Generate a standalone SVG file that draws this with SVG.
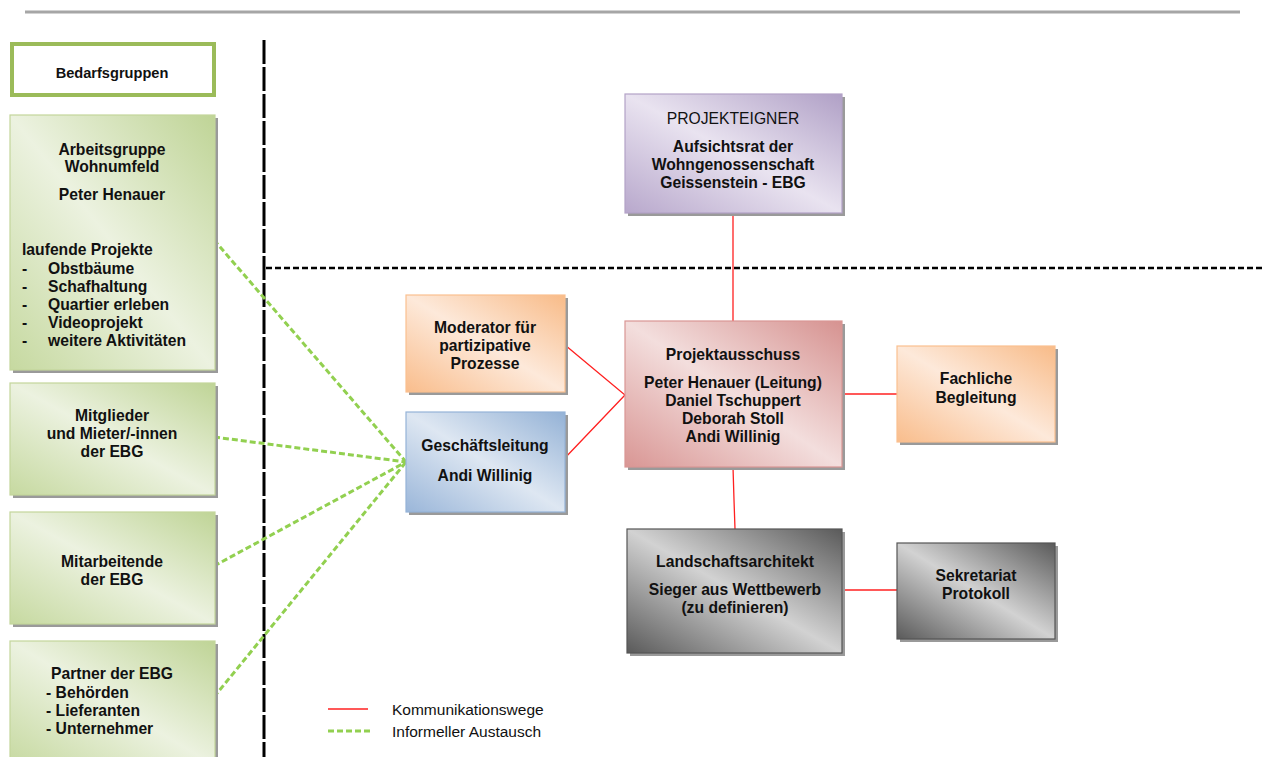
<svg xmlns="http://www.w3.org/2000/svg" width="1268" height="757" viewBox="0 0 1268 757">
<style>
text{font-family:"Liberation Sans",Arial,sans-serif;font-size:15.7px;font-weight:bold;fill:#111;}
.c{text-anchor:middle;}
.n{font-weight:normal;}
.lg{font-size:15.5px;font-weight:normal;}
.bd{font-size:14.6px;}
.box{stroke-width:1.2;}
.sh{fill:#9a9a9a;}
.red{stroke:#ff2020;stroke-width:1.3;fill:none;}
.grn{stroke:#92d050;stroke-width:3;stroke-dasharray:6 3;fill:none;}
</style>
<defs>
<linearGradient id="gG" x1="0" y1="1" x2="1" y2="0"><stop offset="0" stop-color="#c6d9a0"/><stop offset="0.5" stop-color="#ecf2e0"/><stop offset="1" stop-color="#bfd496"/></linearGradient>
<linearGradient id="gP" x1="0" y1="1" x2="1" y2="0"><stop offset="0" stop-color="#b8a8cc"/><stop offset="0.5" stop-color="#e9e3f0"/><stop offset="1" stop-color="#b0a0c6"/></linearGradient>
<linearGradient id="gO" x1="0" y1="1" x2="1" y2="0"><stop offset="0" stop-color="#f9bd8c"/><stop offset="0.5" stop-color="#fde9da"/><stop offset="1" stop-color="#f8bb88"/></linearGradient>
<linearGradient id="gB" x1="0" y1="1" x2="1" y2="0"><stop offset="0" stop-color="#9ab6d9"/><stop offset="0.5" stop-color="#dee7f2"/><stop offset="1" stop-color="#94b2d6"/></linearGradient>
<linearGradient id="gR" x1="0" y1="1" x2="1" y2="0"><stop offset="0" stop-color="#d99694"/><stop offset="0.5" stop-color="#f3dedd"/><stop offset="1" stop-color="#d69290"/></linearGradient>
<linearGradient id="gK" x1="0" y1="1" x2="1" y2="0"><stop offset="0" stop-color="#5a5a5a"/><stop offset="0.5" stop-color="#d2d2d2"/><stop offset="1" stop-color="#5a5a5a"/></linearGradient>
</defs>

<line x1="25" y1="12" x2="1240" y2="12" stroke="#a6a6a6" stroke-width="3"/>
<line x1="264" y1="40" x2="264" y2="757" stroke="#000" stroke-width="3" stroke-dasharray="24 3"/>
<line x1="266" y1="268" x2="1262" y2="268" stroke="#000" stroke-width="2.5" stroke-dasharray="6 3"/>

<g id="connectors">
<line class="red" x1="733" y1="213" x2="733" y2="321"/>
<polyline class="red" points="565,345 625,395 563,460"/>
<line class="red" x1="842" y1="394" x2="897" y2="394"/>
<polyline class="red" points="733,467 734,500 735,529"/>
<line class="red" x1="842" y1="590" x2="897" y2="590"/>
<line class="grn" x1="214" y1="240" x2="406" y2="462"/>
<line class="grn" x1="214" y1="437" x2="406" y2="462"/>
<line class="grn" x1="214" y1="566" x2="406" y2="462"/>
<line class="grn" x1="214" y1="697" x2="406" y2="462"/>
</g>

<g id="bedarfsgruppen">
<rect x="12" y="44" width="202" height="51" fill="#fff" stroke="#9bbb59" stroke-width="4"/>
<text class="c bd" x="112" y="78">Bedarfsgruppen</text>
</g>

<g id="arbeitsgruppe">
<rect class="sh" x="13" y="118" width="205" height="255"/>
<rect class="box" x="10" y="115" width="205" height="255" fill="url(#gG)" stroke="#c3d69b"/>
<text class="c" x="112" y="155">Arbeitsgruppe</text>
<text class="c" x="112" y="172">Wohnumfeld</text>
<text class="c" x="112" y="200">Peter Henauer</text>
<text x="22" y="255">laufende Projekte</text>
<text x="22" y="274">-</text><text x="48" y="274">Obstbäume</text>
<text x="22" y="292">-</text><text x="48" y="292">Schafhaltung</text>
<text x="22" y="310">-</text><text x="48" y="310">Quartier erleben</text>
<text x="22" y="328">-</text><text x="48" y="328">Videoprojekt</text>
<text x="22" y="346">-</text><text x="48" y="346">weitere Aktivitäten</text>
</g>

<g id="mitglieder">
<rect class="sh" x="13" y="386" width="205" height="112"/>
<rect class="box" x="10" y="383" width="205" height="112" fill="url(#gG)" stroke="#c3d69b"/>
<text class="c" x="112" y="421">Mitglieder</text>
<text class="c" x="112" y="439">und Mieter/-innen</text>
<text class="c" x="112" y="457">der EBG</text>
</g>

<g id="mitarbeitende">
<rect class="sh" x="13" y="515" width="205" height="112"/>
<rect class="box" x="10" y="512" width="205" height="112" fill="url(#gG)" stroke="#c3d69b"/>
<text class="c" x="112" y="567">Mitarbeitende</text>
<text class="c" x="112" y="585">der EBG</text>
</g>

<g id="partner">
<rect class="sh" x="13" y="644" width="205" height="120"/>
<rect class="box" x="10" y="641" width="205" height="125" fill="url(#gG)" stroke="#c3d69b"/>
<text class="c" x="112" y="679">Partner der EBG</text>
<text x="46" y="698">- Behörden</text>
<text x="46" y="716">- Lieferanten</text>
<text x="46" y="734">- Unternehmer</text>
</g>

<g id="projekteigner">
<rect class="sh" x="628" y="97" width="217" height="119"/>
<rect class="box" x="625" y="94" width="217" height="119" fill="url(#gP)" stroke="#b3a2c7"/>
<text class="c n" x="733" y="124">PROJEKTEIGNER</text>
<text class="c" x="733" y="152">Aufsichtsrat der</text>
<text class="c" x="733" y="170">Wohngenossenschaft</text>
<text class="c" x="733" y="188">Geissenstein - EBG</text>
</g>

<g id="moderator">
<rect class="sh" x="409" y="298" width="159" height="97"/>
<rect class="box" x="406" y="295" width="159" height="97" fill="url(#gO)" stroke="#fac090"/>
<text class="c" x="485" y="333">Moderator für</text>
<text class="c" x="485" y="351">partizipative</text>
<text class="c" x="485" y="369">Prozesse</text>
</g>

<g id="geschaeftsleitung">
<rect class="sh" x="409" y="415" width="159" height="100"/>
<rect class="box" x="406" y="412" width="159" height="100" fill="url(#gB)" stroke="#95b3d7"/>
<text class="c" x="485" y="451">Geschäftsleitung</text>
<text class="c" x="485" y="481">Andi Willinig</text>
</g>

<g id="projektausschuss">
<rect class="sh" x="628" y="324" width="217" height="146"/>
<rect class="box" x="625" y="321" width="217" height="146" fill="url(#gR)" stroke="#d99694"/>
<text class="c" x="733" y="360">Projektausschuss</text>
<text class="c" x="733" y="388">Peter Henauer (Leitung)</text>
<text class="c" x="733" y="406">Daniel Tschuppert</text>
<text class="c" x="733" y="424">Deborah Stoll</text>
<text class="c" x="733" y="442">Andi Willinig</text>
</g>

<g id="fachliche">
<rect class="sh" x="900" y="349" width="158" height="96"/>
<rect class="box" x="897" y="346" width="158" height="96" fill="url(#gO)" stroke="#fac090"/>
<text class="c" x="976" y="384">Fachliche</text>
<text class="c" x="976" y="403">Begleitung</text>
</g>

<g id="landschaftsarchitekt">
<rect class="sh" x="630" y="532" width="215" height="124"/>
<rect class="box" x="627" y="529" width="215" height="124" fill="url(#gK)" stroke="#555"/>
<text class="c" x="735" y="567">Landschaftsarchitekt</text>
<text class="c" x="735" y="595">Sieger aus Wettbewerb</text>
<text class="c" x="735" y="613">(zu definieren)</text>
</g>

<g id="sekretariat">
<rect class="sh" x="900" y="546" width="158" height="96"/>
<rect class="box" x="897" y="543" width="158" height="96" fill="url(#gK)" stroke="#555"/>
<text class="c" x="976" y="581">Sekretariat</text>
<text class="c" x="976" y="599">Protokoll</text>
</g>

<g id="legend">
<line x1="328" y1="709" x2="368" y2="709" stroke="#ff2020" stroke-width="1.5"/>
<line x1="328" y1="731" x2="370" y2="731" stroke="#92d050" stroke-width="3" stroke-dasharray="6 3"/>
<text class="lg" x="392" y="715">Kommunikationswege</text>
<text class="lg" x="392" y="737">Informeller Austausch</text>
</g>
</svg>
